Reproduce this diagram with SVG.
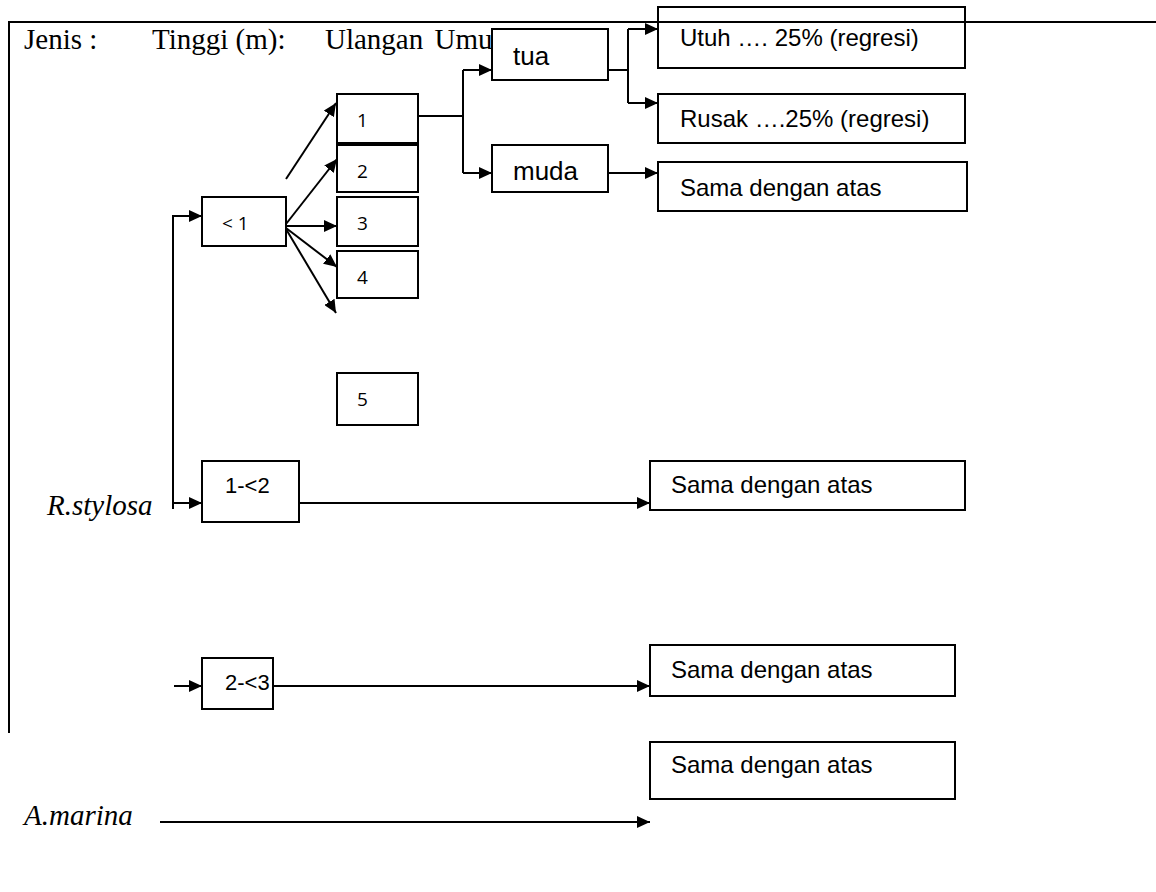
<svg xmlns="http://www.w3.org/2000/svg" width="1156" height="892" viewBox="0 0 1156 892">
  <style>
    .box { fill: #fff; stroke: #000; stroke-width: 2; }
    .open { fill: none; stroke: #000; stroke-width: 2; }
    .wire { fill: none; stroke: #000; stroke-width: 2; }
    .arrow { marker-end: url(#head); }
    .hdr { font-family: "Liberation Serif", "Times New Roman", serif; font-size: 29px; fill: #000; }
    .sp { font-family: "Liberation Serif", "Times New Roman", serif; font-size: 29px; font-style: italic; fill: #000; }
    .num { font-family: "Open Sans", "Noto Sans", sans-serif; font-size: 19px; fill: #000; }
    .lbl { font-family: "Liberation Sans", Arial, sans-serif; font-size: 24px; fill: #000; }
    .big { font-family: "Liberation Sans", Arial, sans-serif; font-size: 26px; fill: #000; }
    .rng { font-family: "Liberation Sans", Arial, sans-serif; font-size: 22px; fill: #000; }
  </style>
  <defs>
    <marker id="head" markerUnits="userSpaceOnUse" markerWidth="14" markerHeight="12" refX="13" refY="6" orient="auto">
      <path d="M0,0 L13,6 L0,12 z" fill="#000"/>
    </marker>
  </defs>
  <rect width="1156" height="892" fill="#fff"/>

  <!-- column headings -->
  <g id="header">
    <text class="hdr" x="24" y="49">Jenis :</text>
    <text class="hdr" x="152" y="49">Tinggi (m):</text>
    <text class="hdr" x="325" y="49" word-spacing="4">Ulangan Umu</text>
  </g>

  <!-- species labels -->
  <g id="species">
    <text class="sp" x="47" y="515">R.stylosa</text>
    <text class="sp" x="24" y="825">A.marina</text>
  </g>

  <!-- connectors -->
  <g id="connectors">
    <!-- R.stylosa spine -->
    <path class="wire arrow" d="M173,509 V216 H202"/>
    <path class="wire arrow" d="M173,503 H202"/>
    <path class="wire arrow" d="M174,686 H202"/>
    <!-- height classes to outcome boxes -->
    <path class="wire arrow" d="M299,503 H650"/>
    <path class="wire arrow" d="M273,686 H650"/>
    <path class="wire arrow" d="M160,822 H650"/>
    <!-- fan from < 1 -->
    <path class="wire arrow" d="M286,179 L336,103"/>
    <path class="wire arrow" d="M286,224 L337,159"/>
    <path class="wire arrow" d="M286,226 H337"/>
    <path class="wire arrow" d="M286,228 L337,267"/>
    <path class="wire arrow" d="M286,229 L336,313"/>
    <!-- replicate 1 to age classes -->
    <path class="wire" d="M418,116 H463 M463,70 V173"/>
    <path class="wire arrow" d="M463,70 H492"/>
    <path class="wire arrow" d="M463,173 H492"/>
    <!-- tua to condition -->
    <path class="wire" d="M608,70 H628 M628,29 V103"/>
    <path class="wire arrow" d="M628,29 H658"/>
    <path class="wire arrow" d="M628,103 H658"/>
    <!-- muda -->
    <path class="wire arrow" d="M608,173 H658"/>
  </g>

  <!-- height class nodes -->
  <g id="h-lt1">
    <rect class="box" x="202" y="197" width="84" height="49"/>
    <text class="num" x="222" y="230">&lt; 1</text>
  </g>
  <g id="h-1-2">
    <rect class="box" x="202" y="461" width="97" height="61"/>
    <text class="rng" x="225" y="493">1-&lt;2</text>
  </g>
  <g id="h-2-3">
    <rect class="box" x="202" y="658" width="71" height="51"/>
    <text class="rng" x="225" y="690">2-&lt;3</text>
  </g>

  <!-- replicate nodes -->
  <g id="rep-1">
    <rect class="box" x="337" y="94" width="81" height="49"/>
    <text class="num" x="357" y="127">1</text>
  </g>
  <g id="rep-2">
    <rect class="box" x="337" y="145" width="81" height="47"/>
    <text class="num" x="357" y="178">2</text>
  </g>
  <g id="rep-3">
    <rect class="box" x="337" y="197" width="81" height="49"/>
    <text class="num" x="357" y="230">3</text>
  </g>
  <g id="rep-4">
    <rect class="box" x="337" y="251" width="81" height="47"/>
    <text class="num" x="357" y="284">4</text>
  </g>
  <g id="rep-5">
    <rect class="box" x="337" y="373" width="81" height="52"/>
    <text class="num" x="357" y="406">5</text>
  </g>

  <!-- age nodes -->
  <g id="age-tua">
    <rect class="box" x="492" y="29" width="116" height="51"/>
    <text class="big" x="513" y="65">tua</text>
  </g>
  <g id="age-muda">
    <rect class="box" x="492" y="145" width="116" height="47"/>
    <text class="big" x="513" y="180">muda</text>
  </g>

  <!-- outcome nodes -->
  <g id="out-utuh">
    <rect class="open" x="658" y="7" width="307" height="61"/>
    <text class="lbl" x="680" y="46">Utuh …. 25% (regresi)</text>
  </g>
  <g id="out-rusak">
    <rect class="box" x="658" y="94" width="307" height="49"/>
    <text class="lbl" x="680" y="127">Rusak ….25% (regresi)</text>
  </g>
  <g id="out-muda">
    <rect class="box" x="658" y="162" width="309" height="49"/>
    <text class="lbl" x="680" y="196">Sama dengan atas</text>
  </g>
  <g id="out-1-2">
    <rect class="box" x="650" y="461" width="315" height="49"/>
    <text class="lbl" x="671" y="493">Sama dengan atas</text>
  </g>
  <g id="out-2-3">
    <rect class="box" x="650" y="645" width="305" height="51"/>
    <text class="lbl" x="671" y="678">Sama dengan atas</text>
  </g>
  <g id="out-amarina">
    <rect class="box" x="650" y="742" width="305" height="57"/>
    <text class="lbl" x="671" y="773">Sama dengan atas</text>
  </g>

  <!-- table frame -->
  <g id="frame">
    <path class="wire" d="M9,733 V22 H1156"/>
  </g>
</svg>
